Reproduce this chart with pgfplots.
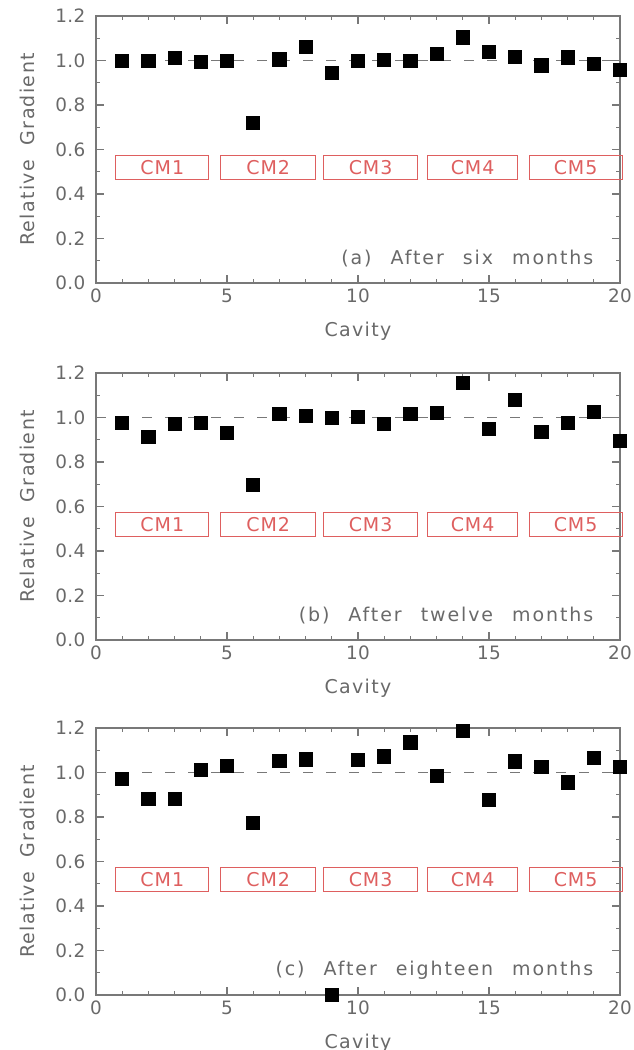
\documentclass[border=0pt]{standalone}
\usepackage{fontspec}
\setmainfont{DejaVu Sans}[LetterSpace=10,WordSpace=2.4]
\newfontfamily\tickfont{DejaVu Sans}[LetterSpace=2]
\newfontfamily\labfont{DejaVu Sans}[LetterSpace=7,WordSpace=2]
\newfontfamily\cmfont{DejaVu Sans}[LetterSpace=5]
\usepackage{pgfplots}
\pgfplotsset{compat=1.18}
\definecolor{txtgray}{RGB}{105,105,105}
\definecolor{axgray}{RGB}{120,120,120}
\definecolor{cmred}{RGB}{222,95,95}

\pgfplotsset{panel/.style={
  width=262pt, height=133.5pt, scale only axis,
  xmin=0, xmax=20, ymin=0, ymax=1.2,
  xtick={0,5,...,20}, minor x tick num=4,
  ytick={0,0.2,...,1.2}, minor y tick num=1,
  tick align=inside,
  major tick length=4pt, minor tick length=2pt,
  axis line style={axgray, line width=0.6pt},
  every tick/.style={axgray, line width=0.6pt},
  every tick label/.append style={txtgray, font=\tickfont\fontsize{9.2}{10}\selectfont},
  label style={txtgray, font=\labfont\fontsize{9.5}{11}\selectfont},
  /pgf/number format/assume math mode=true,
  yticklabel style={xshift=-1.8pt, /pgf/number format/.cd, fixed, fixed zerofill, precision=1},
  xticklabel style={yshift=0.5pt},
  xlabel={Cavity}, ylabel={Relative Gradient},
  xlabel style={at={(axis description cs:0.5,0)}, anchor=center, yshift=-24pt},
  ylabel style={at={(axis description cs:-0.1317,0.5)}, anchor=center},
  clip=false, anchor=north west,
}}

\newcommand{\cmboxes}{%
  \draw[cmred, line width=0.5pt] (axis cs:0.76,0.463) rectangle (axis cs:4.30,0.575) node[midway, cmred, font=\cmfont\fontsize{9.5}{10}\selectfont] {CM1};
  \draw[cmred, line width=0.5pt] (axis cs:4.76,0.463) rectangle (axis cs:8.38,0.575) node[midway, cmred, font=\cmfont\fontsize{9.5}{10}\selectfont] {CM2};
  \draw[cmred, line width=0.5pt] (axis cs:8.69,0.463) rectangle (axis cs:12.27,0.575) node[midway, cmred, font=\cmfont\fontsize{9.5}{10}\selectfont] {CM3};
  \draw[cmred, line width=0.5pt] (axis cs:12.65,0.463) rectangle (axis cs:16.10,0.575) node[midway, cmred, font=\cmfont\fontsize{9.5}{10}\selectfont] {CM4};
  \draw[cmred, line width=0.5pt] (axis cs:16.53,0.463) rectangle (axis cs:20.08,0.575) node[midway, cmred, font=\cmfont\fontsize{9.5}{10}\selectfont] {CM5};
}

\begin{document}
\begin{tikzpicture}
\useasboundingbox (-48pt,8pt) rectangle (268.5pt,-517pt);
% (a) six months
\begin{axis}[panel, at={(0,0)}]
\addplot[axgray, dash pattern=on 5pt off 6.5pt, line width=0.6pt] coordinates {(0,1) (20,1)};
\addplot[only marks, mark=square*, mark size=3.3pt, black] coordinates {
(1,1.000) (2,1.000) (3,1.010) (4,0.992) (5,1.000) (6,0.718) (7,1.005) (8,1.060) (9,0.946) (10,1.000)
(11,1.003) (12,1.000) (13,1.029) (14,1.104) (15,1.040) (16,1.015) (17,0.978) (18,1.014) (19,0.984) (20,0.956)};
\cmboxes
\node[anchor=east, txtgray, font=\fontsize{9.5}{11}\selectfont] at (axis cs:19.25,0.11) {(a) After six months};
\end{axis}
% (b) twelve months
\begin{axis}[panel, at={(0,-178.5pt)}]
\addplot[axgray, dash pattern=on 5pt off 6.5pt, line width=0.6pt] coordinates {(0,1) (20,1)};
\addplot[only marks, mark=square*, mark size=3.3pt, black] coordinates {
(1,0.977) (2,0.913) (3,0.970) (4,0.974) (5,0.932) (6,0.697) (7,1.018) (8,1.008) (9,0.997) (10,1.004)
(11,0.970) (12,1.015) (13,1.021) (14,1.156) (15,0.950) (16,1.080) (17,0.935) (18,0.974) (19,1.027) (20,0.894)};
\cmboxes
\node[anchor=east, txtgray, font=\fontsize{9.5}{11}\selectfont] at (axis cs:19.25,0.11) {(b) After twelve months};
\end{axis}
% (c) eighteen months
\begin{axis}[panel, at={(0,-356pt)}]
\addplot[axgray, dash pattern=on 5pt off 6.5pt, line width=0.6pt] coordinates {(0,1) (20,1)};
\addplot[only marks, mark=square*, mark size=3.3pt, black] coordinates {
(1,0.973) (2,0.880) (3,0.880) (4,1.010) (5,1.030) (6,0.775) (7,1.053) (8,1.059) (9,0.000) (10,1.058)
(11,1.072) (12,1.135) (13,0.986) (14,1.188) (15,0.878) (16,1.050) (17,1.026) (18,0.956) (19,1.065) (20,1.024)};
\cmboxes
\node[anchor=east, txtgray, font=\fontsize{9.5}{11}\selectfont] at (axis cs:19.25,0.11) {(c) After eighteen months};
\end{axis}
\end{tikzpicture}
\end{document}
